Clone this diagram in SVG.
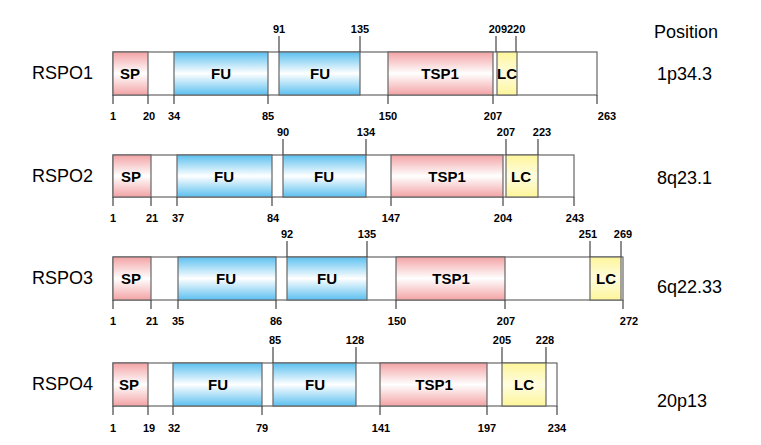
<svg xmlns="http://www.w3.org/2000/svg" width="761" height="445" viewBox="0 0 761 445">
<defs>
<linearGradient id="gr" x1="0" y1="0" x2="0" y2="1"><stop offset="0" stop-color="#f3a3a5"/><stop offset="0.5" stop-color="#fff"/><stop offset="1" stop-color="#f3a3a5"/></linearGradient>
<linearGradient id="gb" x1="0" y1="0" x2="0" y2="1"><stop offset="0" stop-color="#5cc0f0"/><stop offset="0.5" stop-color="#fff"/><stop offset="1" stop-color="#5cc0f0"/></linearGradient>
<linearGradient id="gy" x1="0" y1="0" x2="0" y2="1"><stop offset="0" stop-color="#fdf59a"/><stop offset="0.5" stop-color="#fffde0"/><stop offset="1" stop-color="#fdf59a"/></linearGradient>
</defs>
<style>
rect{stroke:#666;stroke-width:1.2}
.bg{fill:#fff}.r{fill:url(#gr)}.b{fill:url(#gb)}.y{fill:url(#gy)}
line{stroke:#444;stroke-width:1.2}
text{font-family:"Liberation Sans",Arial,sans-serif}
.d{font-size:15px;font-weight:bold;text-anchor:middle}
.n{font-size:11px;font-weight:bold;text-anchor:middle}
.nm{font-size:18px}
.p{font-size:18px}
</style>
<rect width="761" height="445" fill="#fff" style="stroke:none"/>
<text x="654" y="38" class="p">Position</text>
<g id="rspo1">
<text x="32" y="79" class="nm">RSPO1</text><text x="657" y="80" class="p">1p34.3</text>
<rect class="bg" x="113" y="52" width="484" height="43"/>
<rect class="r" x="113" y="52" width="35" height="43"/><rect class="b" x="174" y="52" width="94" height="43"/><rect class="b" x="279" y="52" width="81" height="43"/><rect class="r" x="388" y="52" width="105" height="43"/><rect class="y" x="497" y="52" width="20" height="43"/>
<text x="130" y="79" class="d">SP</text><text x="221" y="79" class="d">FU</text><text x="320" y="79" class="d">FU</text><text x="440" y="79" class="d">TSP1</text><text x="507" y="79" class="d">LC</text>
<g><line x1="113" y1="95" x2="113" y2="104"/><line x1="148" y1="95" x2="148" y2="104"/><line x1="174" y1="95" x2="174" y2="104"/><line x1="268" y1="95" x2="268" y2="104"/><line x1="388" y1="95" x2="388" y2="104"/><line x1="493" y1="95" x2="493" y2="104"/><line x1="597" y1="95" x2="597" y2="104"/>
<line x1="279" y1="36" x2="279" y2="52"/><line x1="360" y1="36" x2="360" y2="52"/><line x1="496" y1="36" x2="496" y2="52"/><line x1="516" y1="36" x2="516" y2="52"/></g>
<text x="113" y="120" class="n">1</text><text x="149" y="120" class="n">20</text><text x="174" y="120" class="n">34</text><text x="268" y="120" class="n">85</text><text x="388" y="120" class="n">150</text><text x="493" y="120" class="n">207</text><text x="607" y="120" class="n">263</text>
<text x="279" y="33" class="n">91</text><text x="360" y="33" class="n">135</text><text x="507" y="33" class="n">209220</text>
</g>
<g id="rspo2">
<text x="32" y="182" class="nm">RSPO2</text><text x="657" y="184" class="p">8q23.1</text>
<rect class="bg" x="113" y="155" width="461" height="42"/>
<rect class="r" x="113" y="155" width="38" height="42"/><rect class="b" x="177" y="155" width="95" height="42"/><rect class="b" x="283" y="155" width="83" height="42"/><rect class="r" x="391" y="155" width="112" height="42"/><rect class="y" x="506" y="155" width="32" height="42"/>
<text x="131" y="182" class="d">SP</text><text x="224" y="182" class="d">FU</text><text x="324" y="182" class="d">FU</text><text x="447" y="182" class="d">TSP1</text><text x="521" y="182" class="d">LC</text>
<g><line x1="113" y1="197" x2="113" y2="206"/><line x1="151" y1="197" x2="151" y2="206"/><line x1="177" y1="197" x2="177" y2="206"/><line x1="272" y1="197" x2="272" y2="206"/><line x1="391" y1="197" x2="391" y2="206"/><line x1="503" y1="197" x2="503" y2="206"/><line x1="574" y1="197" x2="574" y2="206"/>
<line x1="283" y1="139" x2="283" y2="155"/><line x1="366" y1="139" x2="366" y2="155"/><line x1="506" y1="139" x2="506" y2="155"/><line x1="538" y1="139" x2="538" y2="155"/></g>
<text x="113" y="222" class="n">1</text><text x="152" y="222" class="n">21</text><text x="178" y="222" class="n">37</text><text x="273" y="222" class="n">84</text><text x="391" y="222" class="n">147</text><text x="503" y="222" class="n">204</text><text x="575" y="222" class="n">243</text>
<text x="283" y="136" class="n">90</text><text x="366" y="136" class="n">134</text><text x="506" y="136" class="n">207</text><text x="542" y="136" class="n">223</text>
</g>
<g id="rspo3">
<text x="32" y="284" class="nm">RSPO3</text><text x="657" y="293" class="p">6q22.33</text>
<rect class="bg" x="113" y="257" width="510" height="43"/>
<rect class="r" x="113" y="257" width="38" height="43"/><rect class="b" x="178" y="257" width="98" height="43"/><rect class="b" x="287" y="257" width="80" height="43"/><rect class="r" x="396" y="257" width="109" height="43"/><rect class="y" x="590" y="257" width="31" height="43"/>
<text x="131" y="284" class="d">SP</text><text x="226" y="284" class="d">FU</text><text x="327" y="284" class="d">FU</text><text x="451" y="284" class="d">TSP1</text><text x="606" y="284" class="d">LC</text>
<g><line x1="113" y1="300" x2="113" y2="309"/><line x1="151" y1="300" x2="151" y2="309"/><line x1="178" y1="300" x2="178" y2="309"/><line x1="276" y1="300" x2="276" y2="309"/><line x1="396" y1="300" x2="396" y2="309"/><line x1="505" y1="300" x2="505" y2="309"/><line x1="623" y1="300" x2="623" y2="309"/>
<line x1="287" y1="241" x2="287" y2="257"/><line x1="367" y1="241" x2="367" y2="257"/><line x1="590" y1="241" x2="590" y2="257"/><line x1="621" y1="241" x2="621" y2="257"/></g>
<text x="113" y="325" class="n">1</text><text x="152" y="325" class="n">21</text><text x="178" y="325" class="n">35</text><text x="276" y="325" class="n">86</text><text x="397" y="325" class="n">150</text><text x="506" y="325" class="n">207</text><text x="629" y="325" class="n">272</text>
<text x="287" y="238" class="n">92</text><text x="367" y="238" class="n">135</text><text x="588" y="238" class="n">251</text><text x="623" y="238" class="n">269</text>
</g>
<g id="rspo4">
<text x="32" y="390" class="nm">RSPO4</text><text x="657" y="407" class="p">20p13</text>
<rect class="bg" x="113" y="363" width="444" height="43"/>
<rect class="r" x="113" y="363" width="35" height="43"/><rect class="b" x="173" y="363" width="89" height="43"/><rect class="b" x="273" y="363" width="83" height="43"/><rect class="r" x="380" y="363" width="107" height="43"/><rect class="y" x="502" y="363" width="44" height="43"/>
<text x="129" y="390" class="d">SP</text><text x="218" y="390" class="d">FU</text><text x="315" y="390" class="d">FU</text><text x="434" y="390" class="d">TSP1</text><text x="524" y="390" class="d">LC</text>
<g><line x1="113" y1="406" x2="113" y2="415"/><line x1="148" y1="406" x2="148" y2="415"/><line x1="173" y1="406" x2="173" y2="415"/><line x1="262" y1="406" x2="262" y2="415"/><line x1="380" y1="406" x2="380" y2="415"/><line x1="487" y1="406" x2="487" y2="415"/><line x1="557" y1="406" x2="557" y2="415"/>
<line x1="273" y1="347" x2="273" y2="363"/><line x1="356" y1="347" x2="356" y2="363"/><line x1="502" y1="347" x2="502" y2="363"/><line x1="546" y1="347" x2="546" y2="363"/></g>
<text x="113" y="432" class="n">1</text><text x="149" y="432" class="n">19</text><text x="174" y="432" class="n">32</text><text x="262" y="432" class="n">79</text><text x="381" y="432" class="n">141</text><text x="487" y="432" class="n">197</text><text x="557" y="432" class="n">234</text>
<text x="275" y="344" class="n">85</text><text x="355" y="344" class="n">128</text><text x="502" y="344" class="n">205</text><text x="545" y="344" class="n">228</text>
</g>
</svg>
